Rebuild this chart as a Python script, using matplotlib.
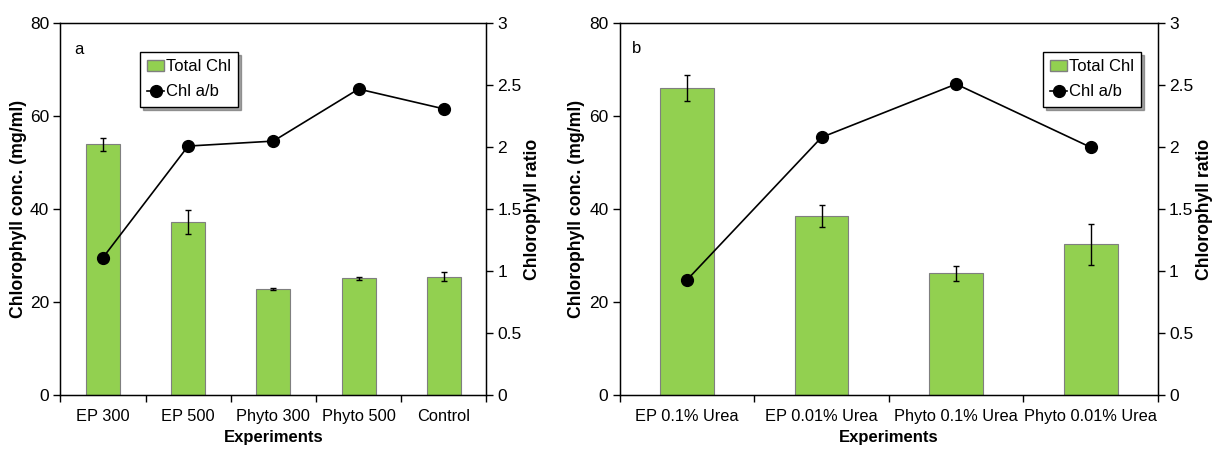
import matplotlib
matplotlib.use('Agg')
import matplotlib.pyplot as plt
from matplotlib.patches import Patch
from matplotlib.lines import Line2D
import numpy as np

plt.rcParams['font.family'] = ['Liberation Sans', 'DejaVu Sans']

# ── Panel a ──
cats_a = ["EP 300", "EP 500", "Phyto 300", "Phyto 500", "Control"]
total_a = [54.0, 37.3, 22.9, 25.2, 25.5]
err_a = [1.4, 2.6, 0.2, 0.3, 1.0]
ratio_a = [1.11, 2.01, 2.05, 2.47, 2.31]

# ── Panel b ──
cats_b = ["EP 0.1% Urea", "EP 0.01% Urea", "Phyto 0.1% Urea", "Phyto 0.01% Urea"]
total_b = [66.0, 38.6, 26.2, 32.5]
err_b = [2.8, 2.4, 1.6, 4.4]
ratio_b = [0.93, 2.08, 2.51, 2.00]

BAR = "#92D050"
EDGE = "#7f7f7f"
W, H = 1214, 449
FS = 11.8

fig = plt.figure(figsize=(W / 100, H / 100), dpi=100)


def panel(px, cats, total, err, ratio, letter, letter_xy, ylab_x):
    # px = (left, right) in pixels; plot area spans y 23..395
    l, r = px
    ax = fig.add_axes([l / W, (H - 395.3) / H, (r - l) / W, 372 / H])
    n = len(cats)
    x = np.arange(n)
    ax.bar(x, total, width=0.4, color=BAR, edgecolor=EDGE, linewidth=0.8, zorder=2)
    ax.errorbar(x, total, yerr=err, fmt='none', ecolor='black', elinewidth=1,
                capsize=2, capthick=1, zorder=3)
    ax.set_xlim(-0.5, n - 0.5)
    ax.set_ylim(0, 80)
    ax.set_yticks([0, 20, 40, 60, 80])
    ax.set_xticks(np.arange(n + 1) - 0.5)
    ax.set_xticklabels([])
    ax.set_xticks(x, minor=True)
    ax.set_xticklabels(cats, minor=True, fontsize=FS)
    ax.tick_params(axis='x', which='minor', length=0, pad=10)
    ax.tick_params(axis='x', which='major', direction='out', length=5, width=1)
    ax.tick_params(axis='y', direction='out', length=5, width=1, pad=3,
                   labelsize=12.5)
    ax.set_xlabel("Experiments", fontsize=12, fontweight='bold', labelpad=4)
    ax.set_ylabel("Chlorophyll conc. (mg/ml)", fontsize=12.7, fontweight='bold')
    ax.yaxis.set_label_coords(ylab_x[0], 0.5)
    for s in ax.spines.values():
        s.set_linewidth(1)
        s.set_color('black')
    ax.text(letter_xy[0], letter_xy[1], letter, transform=ax.transAxes,
            fontsize=12, va='center', ha='center')

    ax2 = ax.twinx()
    ax2.plot(x, ratio, '-o', color='black', markersize=8.5, linewidth=1.2, zorder=4)
    ax2.set_ylim(0, 3)
    ax2.set_yticks([0, 0.5, 1, 1.5, 2, 2.5, 3])
    ax2.set_yticklabels(["0", "0.5", "1", "1.5", "2", "2.5", "3"])
    ax2.tick_params(axis='y', direction='out', length=5, width=1, pad=3,
                    labelsize=12.5)
    ax2.set_ylabel("Chlorophyll ratio", fontsize=12.7, fontweight='bold')
    ax2.yaxis.set_label_coords(ylab_x[1], 0.5)
    return ax, ax2


def add_legend(ax, ax2, loc, anchor):
    handles = [Patch(facecolor=BAR, edgecolor=EDGE, label="Total Chl"),
               Line2D([0], [0], color='black', marker='o', markersize=8.5,
                      linewidth=1.2, label="Chl a/b")]
    leg = ax2.legend(handles=handles, loc=loc, bbox_to_anchor=anchor,
                     bbox_transform=ax.transAxes, frameon=True, fontsize=12,
                     fancybox=False, shadow=True, handlelength=1.0,
                     handletextpad=0.1, borderpad=0.45, labelspacing=0.6,
                     borderaxespad=0)
    leg.get_frame().set_edgecolor('black')
    leg.get_frame().set_linewidth(1)


ax_a, ax_a2 = panel((60.3, 486.4), cats_a, total_a, err_a, ratio_a,
                    "a", (0.044, 0.93), (-0.078, 1.0885))
add_legend(ax_a, ax_a2, 'upper left', (0.187, 0.923))

ax_b, ax_b2 = panel((619.6, 1158.0), cats_b, total_b, err_b, ratio_b,
                    "b", (0.032, 0.933), (-0.064, 1.071))
add_legend(ax_b, ax_b2, 'upper right', (0.969, 0.923))

fig.savefig("out.png", dpi=100)
